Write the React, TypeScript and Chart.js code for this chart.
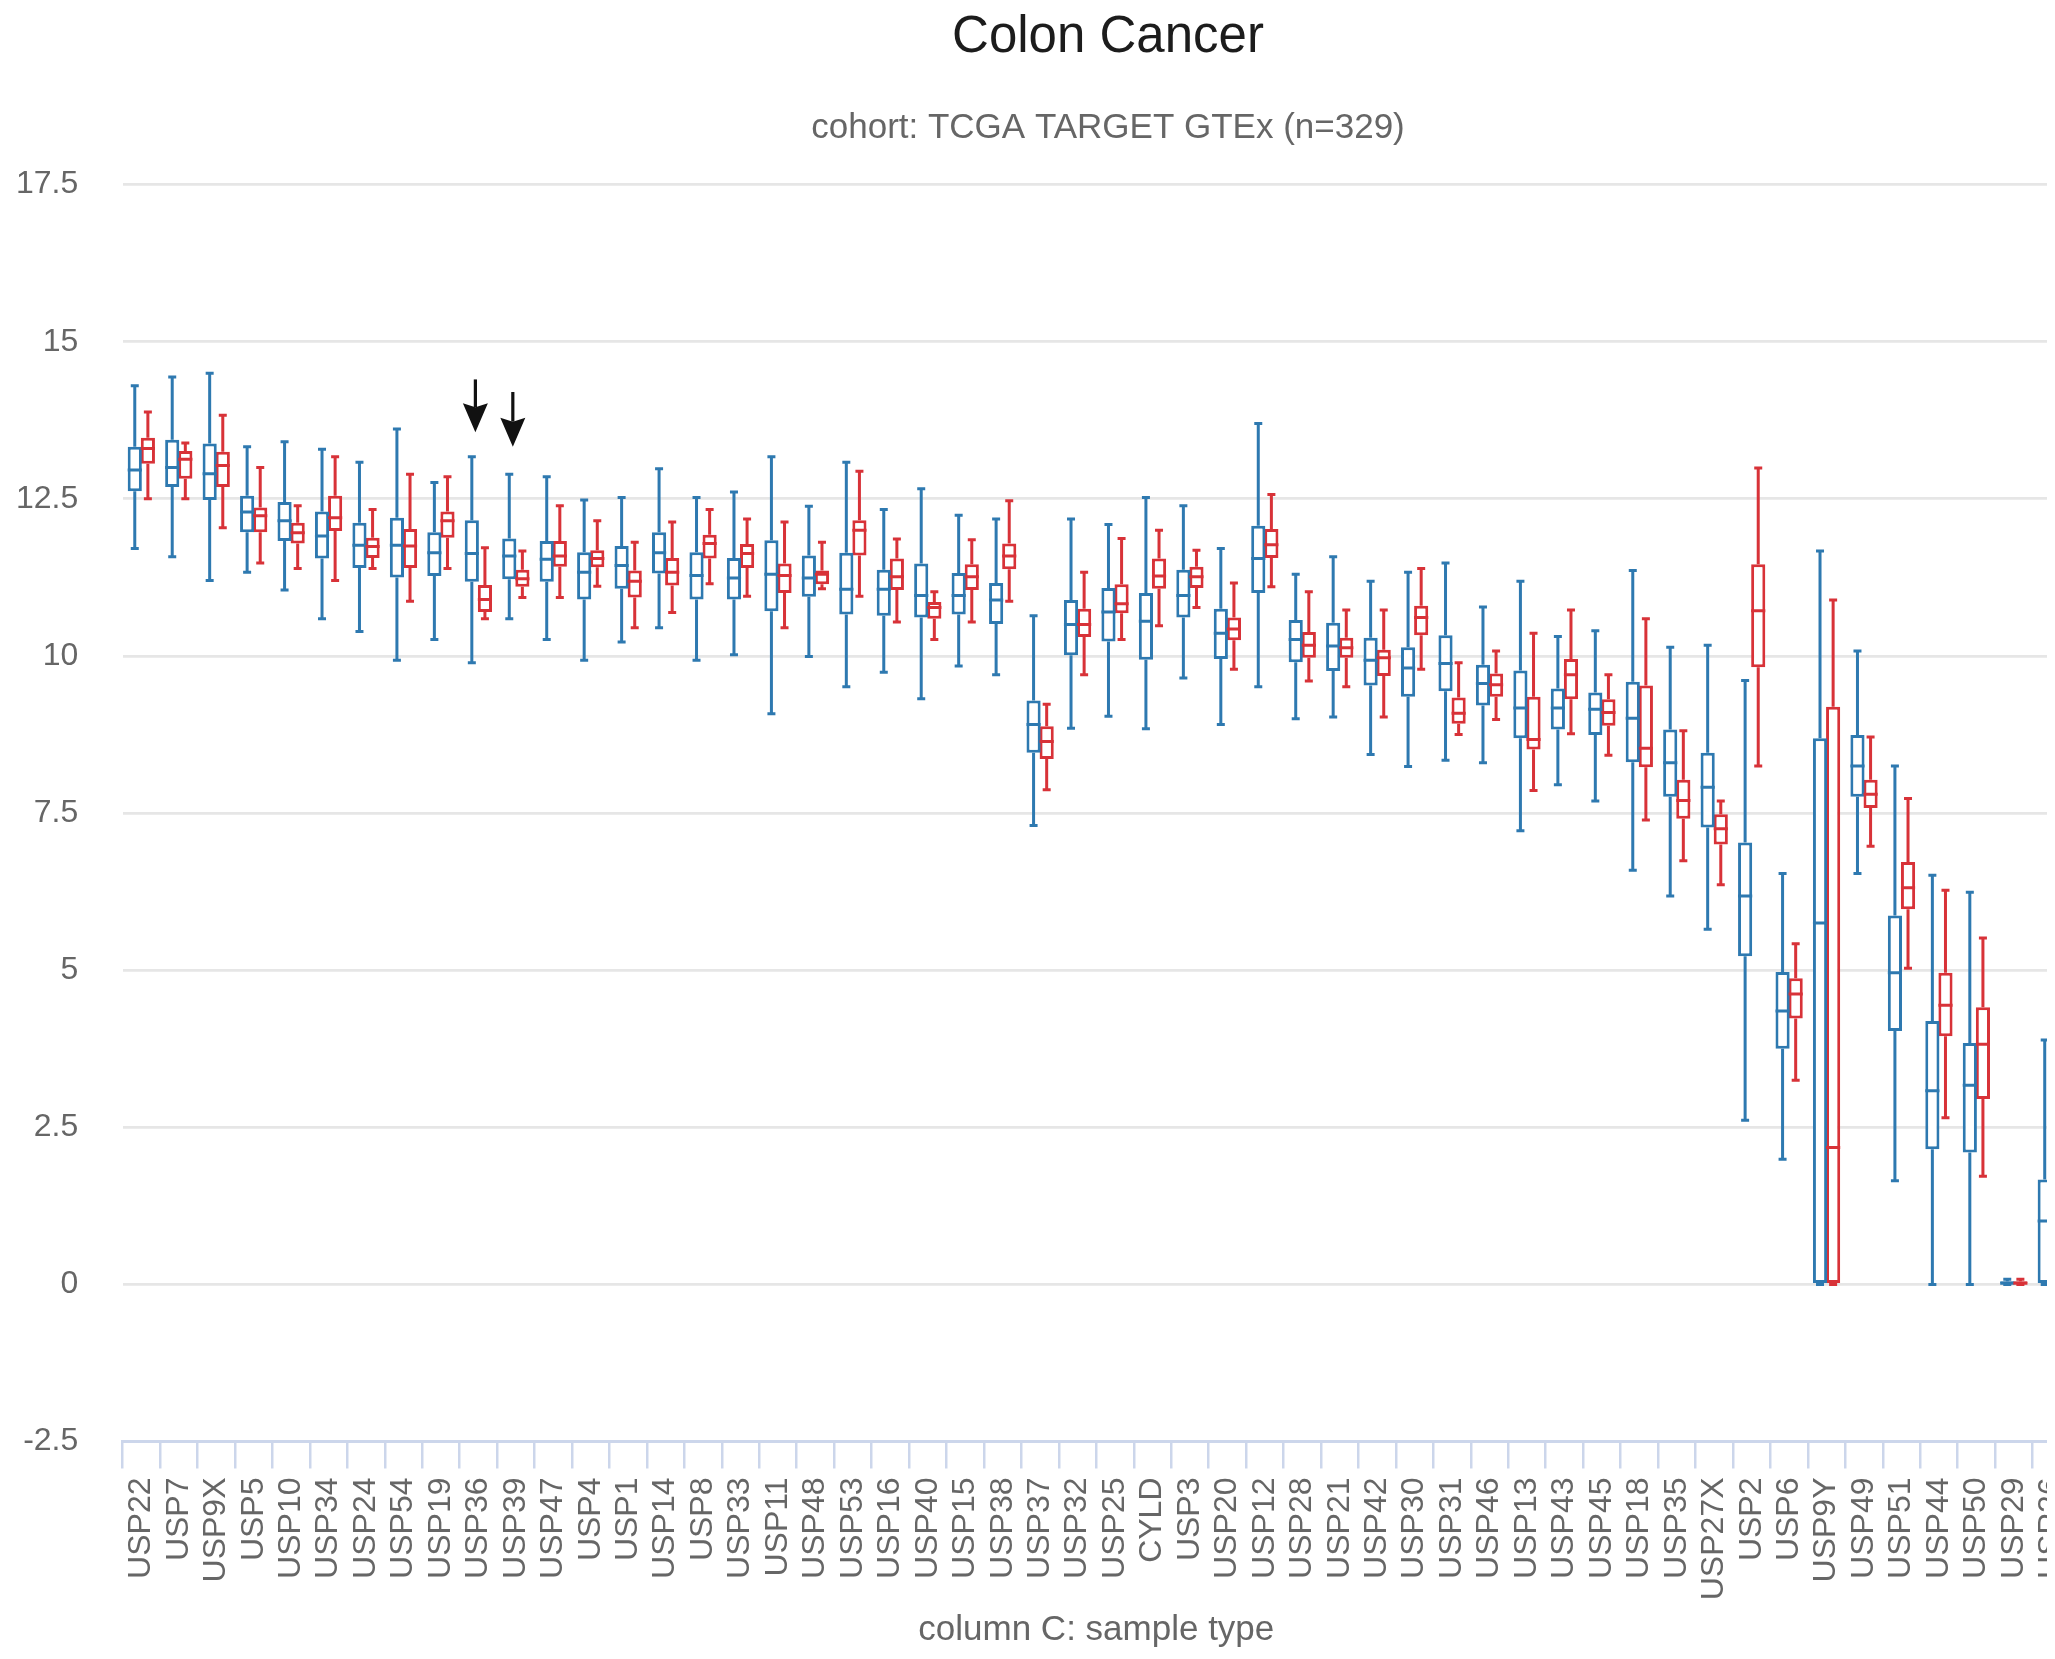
import React, { useEffect, useRef } from 'react';
import { Chart, registerables } from 'chart.js';

Chart.register(...registerables);

// ---------- data ----------
const categories = [
  'USP22', 'USP7', 'USP9X', 'USP5', 'USP10', 'USP34', 'USP24', 'USP54', 'USP19', 'USP36',
  'USP39', 'USP47', 'USP4', 'USP1', 'USP14', 'USP8', 'USP33', 'USP11', 'USP48', 'USP53',
  'USP16', 'USP40', 'USP15', 'USP38', 'USP37', 'USP32', 'USP25', 'CYLD', 'USP3', 'USP20',
  'USP12', 'USP28', 'USP21', 'USP42', 'USP30', 'USP31', 'USP46', 'USP13', 'USP43', 'USP45',
  'USP18', 'USP35', 'USP27X', 'USP2', 'USP6', 'USP9Y', 'USP49', 'USP51', 'USP44', 'USP50',
  'USP29', 'USP26',
];

const seriesNames = ['Primary Tumor', 'Solid Tissue Normal'];

// blue series
const blueMin = [
  11.71, 11.58, 11.20, 11.33, 11.05, 10.59, 10.39, 9.93, 10.26, 9.89,
  10.59, 10.26, 9.93, 10.22, 10.45, 9.93, 10.02, 9.08, 9.99, 9.51,
  9.74, 9.32, 9.84, 9.70, 7.30, 8.85, 9.04, 8.84, 9.65, 8.91,
  9.51, 9.00, 9.03, 8.43, 8.24, 8.34, 8.30, 7.22, 7.95, 7.69,
  6.59, 6.18, 5.65, 2.61, 1.99, 0, 6.54, 1.65, 0, 0,
  0, 0,
];
const blueQ1 = [
  12.62, 12.69, 12.48, 11.97, 11.83, 11.55, 11.40, 11.25, 11.27, 11.18,
  11.22, 11.18, 10.90, 11.07, 11.31, 10.90, 10.90, 10.71, 10.94, 10.66,
  10.64, 10.61, 10.66, 10.51, 8.46, 10.01, 10.23, 9.94, 10.61, 9.95,
  11.00, 9.90, 9.76, 9.53, 9.35, 9.44, 9.21, 8.69, 8.83, 8.74,
  8.31, 7.76, 7.27, 5.22, 3.75, 0, 7.76, 4.03, 2.15, 2.10,
  0, 0,
];
const blueMedian = [
  12.96, 13.00, 12.90, 12.29, 12.15, 11.91, 11.76, 11.76, 11.64, 11.63,
  11.59, 11.54, 11.33, 11.44, 11.64, 11.28, 11.24, 11.30, 11.24, 11.06,
  11.06, 10.96, 10.96, 10.89, 8.91, 10.50, 10.70, 10.55, 10.96, 10.36,
  11.55, 10.26, 10.16, 9.93, 9.81, 9.88, 9.56, 9.17, 9.17, 9.15,
  9.01, 8.30, 7.91, 6.18, 4.35, 5.75, 8.25, 4.96, 3.08, 3.17,
  0.02, 1.01,
];
const blueQ3 = [
  13.33, 13.44, 13.38, 12.55, 12.45, 12.30, 12.12, 12.20, 11.97, 12.16,
  11.87, 11.83, 11.65, 11.75, 11.97, 11.65, 11.56, 11.84, 11.60, 11.64,
  11.37, 11.47, 11.32, 11.16, 9.29, 10.89, 11.08, 11.00, 11.37, 10.75,
  12.07, 10.57, 10.53, 10.29, 10.14, 10.33, 9.86, 9.77, 9.48, 9.42,
  9.59, 8.83, 8.46, 7.03, 4.97, 8.69, 8.74, 5.87, 4.19, 3.84,
  0.05, 1.67,
];
const blueMax = [
  14.30, 14.44, 14.50, 13.33, 13.41, 13.29, 13.08, 13.61, 12.76, 13.17,
  12.89, 12.85, 12.48, 12.52, 12.98, 12.52, 12.61, 13.17, 12.38, 13.08,
  12.33, 12.66, 12.24, 12.18, 10.64, 12.18, 12.09, 12.52, 12.39, 11.71,
  13.70, 11.30, 11.58, 11.19, 11.33, 11.48, 10.78, 11.19, 10.31, 10.40,
  11.36, 10.14, 10.17, 9.61, 6.54, 11.67, 10.08, 8.25, 6.51, 6.24,
  0.08, 3.89,
];

// red series
const redMin = [
  12.50, 12.50, 12.04, 11.48, 11.39, 11.20, 11.39, 10.87, 11.39, 10.59,
  10.93, 10.93, 11.11, 10.45, 10.69, 11.15, 10.95, 10.45, 11.07, 10.95,
  10.54, 10.26, 10.54, 10.87, 7.87, 9.70, 10.26, 10.48, 10.77, 9.79,
  11.10, 9.60, 9.51, 9.03, 9.79, 8.75, 8.99, 7.86, 8.76, 8.42,
  7.39, 6.74, 6.36, 8.25, 3.25, 0, 6.97, 5.03, 2.65, 1.72,
  0, 0,
];
const redQ1 = [
  13.06, 12.82, 12.69, 11.97, 11.79, 11.99, 11.56, 11.40, 11.88, 10.70,
  11.10, 11.42, 11.41, 10.93, 11.12, 11.55, 11.40, 11.00, 11.14, 11.60,
  11.05, 10.59, 11.05, 11.38, 8.36, 10.30, 10.68, 11.07, 11.08, 10.25,
  11.56, 9.97, 9.97, 9.68, 10.33, 8.92, 9.35, 8.51, 9.31, 8.89,
  8.23, 7.41, 7.00, 9.82, 4.23, 0, 7.58, 5.97, 3.95, 2.95,
  0, 0,
];
const redMedian = [
  13.30, 13.13, 13.03, 12.23, 11.96, 12.20, 11.74, 11.75, 12.15, 10.90,
  11.23, 11.59, 11.55, 11.19, 11.33, 11.79, 11.63, 11.28, 11.30, 12.00,
  11.26, 10.77, 11.26, 11.59, 8.64, 10.50, 10.83, 11.27, 11.26, 10.43,
  11.77, 10.17, 10.13, 9.97, 10.61, 9.09, 9.54, 8.67, 9.70, 9.10,
  8.53, 7.70, 7.25, 10.72, 4.62, 2.18, 7.80, 6.31, 4.44, 3.82,
  0.02, 0.02,
];
const redQ3 = [
  13.47, 13.26, 13.25, 12.36, 12.12, 12.55, 11.88, 12.02, 12.30, 11.13,
  11.37, 11.83, 11.68, 11.36, 11.56, 11.93, 11.78, 11.47, 11.36, 12.16,
  11.55, 10.86, 11.46, 11.79, 8.88, 10.75, 11.14, 11.55, 11.42, 10.61,
  12.02, 10.38, 10.29, 10.10, 10.80, 9.34, 9.72, 9.35, 9.95, 9.31,
  9.53, 8.03, 7.48, 11.46, 4.87, 9.19, 8.03, 6.72, 4.96, 4.41,
  0.05, 0.05,
];
const redMax = [
  13.88, 13.39, 13.83, 13.00, 12.39, 13.17, 12.33, 12.89, 12.85, 11.72,
  11.67, 12.39, 12.15, 11.81, 12.13, 12.33, 12.18, 12.13, 11.81, 12.94,
  11.86, 11.02, 11.85, 12.47, 9.23, 11.33, 11.87, 12.00, 11.68, 11.16,
  12.57, 11.02, 10.73, 10.73, 11.39, 9.89, 10.08, 10.36, 10.73, 9.70,
  10.59, 8.81, 7.69, 12.99, 5.42, 10.89, 8.71, 7.73, 6.27, 5.51,
  0.08, 0.08,
];

// annotation arrows (black, pointing down)
const arrowCategories = ['USP36', 'USP39'];
const arrowTop = [14.40, 14.20];
const arrowTip = [13.56, 13.33];

const yTickMin = -2.5;
const yTickMax = 17.5;
const yTickStep = 2.5;

const titleText = 'Colon Cancer';
const subtitleText = 'cohort: TCGA TARGET GTEx (n=329)';
const xAxisTitle = 'column C: sample type';

// ---------- styles ----------
const FONT = "'Liberation Sans', Arial, Helvetica, sans-serif";
const BLUE = '#2e79b0';
const RED = '#d83238';
const LINE_W = 3;
const CAP_W = 8;

const boxWhiskerPlugin = {
  id: 'boxWhisker',
  afterDatasetsDraw(chart: any) {
    const { ctx } = chart;
    const yScale = chart.scales.y;
    chart.data.datasets.forEach((ds: any, di: number) => {
      const meta = chart.getDatasetMeta(di);
      const st = ds.stats;
      ctx.save();
      ctx.strokeStyle = ds.borderColor;
      ctx.lineWidth = LINE_W;
      ctx.lineCap = 'butt';
      meta.data.forEach((bar: any, i: number) => {
        const x = bar.x;
        const w = bar.width;
        const pMin = yScale.getPixelForValue(st.min[i]);
        const pQ1 = yScale.getPixelForValue(st.q1[i]);
        const pMed = yScale.getPixelForValue(st.median[i]);
        const pQ3 = yScale.getPixelForValue(st.q3[i]);
        const pMax = yScale.getPixelForValue(st.max[i]);
        ctx.beginPath();
        // stems
        if (pMin > pQ1) { ctx.moveTo(x, pQ1); ctx.lineTo(x, pMin); }
        if (pMax < pQ3) { ctx.moveTo(x, pQ3); ctx.lineTo(x, pMax); }
        // caps
        ctx.moveTo(x - CAP_W / 2, pMin); ctx.lineTo(x + CAP_W / 2, pMin);
        ctx.moveTo(x - CAP_W / 2, pMax); ctx.lineTo(x + CAP_W / 2, pMax);
        // median
        ctx.moveTo(x - w / 2, pMed); ctx.lineTo(x + w / 2, pMed);
        ctx.stroke();
      });
      ctx.restore();
    });

    // arrows
    const xScale = chart.scales.x;
    ctx.save();
    ctx.strokeStyle = '#111111';
    ctx.fillStyle = '#111111';
    ctx.lineWidth = 3.2;
    arrowCategories.forEach((cat, k) => {
      const idx = categories.indexOf(cat);
      const x = xScale.getPixelForValue(idx) - 3;
      const yTop = yScale.getPixelForValue(arrowTop[k]);
      const yTip = yScale.getPixelForValue(arrowTip[k]);
      const headLen = 29;
      const headHalf = 12.5;
      ctx.beginPath();
      ctx.moveTo(x, yTop);
      ctx.lineTo(x, yTip - headLen + 4);
      ctx.stroke();
      ctx.beginPath();
      ctx.moveTo(x - headHalf, yTip - headLen);
      ctx.lineTo(x, yTip - headLen + 4);
      ctx.lineTo(x + headHalf, yTip - headLen);
      ctx.lineTo(x, yTip);
      ctx.closePath();
      ctx.fill();
    });
    ctx.restore();
  },
};

export default function App() {
  const canvasRef = useRef<HTMLCanvasElement | null>(null);

  useEffect(() => {
    if (!canvasRef.current) return;
    const mkDataset = (
      label: string,
      color: string,
      min: number[], q1: number[], median: number[], q3: number[], max: number[],
    ) => ({
      label,
      data: categories.map((_, i) => [q1[i], q3[i]]),
      backgroundColor: '#ffffff',
      borderColor: color,
      borderWidth: LINE_W,
      borderSkipped: false,
      categoryPercentage: 0.7,
      barPercentage: 1.08,
      stats: { min, q1, median, q3, max },
    });

    const chart = new Chart(canvasRef.current, {
      type: 'bar',
      data: {
        labels: categories,
        datasets: [
          mkDataset(seriesNames[0], BLUE, blueMin, blueQ1, blueMedian, blueQ3, blueMax),
          mkDataset(seriesNames[1], RED, redMin, redQ1, redMedian, redQ3, redMax),
        ] as any,
      },
      options: {
        animation: false,
        responsive: false,
        devicePixelRatio: 1,
        layout: { padding: 0 },
        plugins: {
          legend: { display: false },
          tooltip: { enabled: false },
          title: {
            display: true,
            text: titleText,
            color: '#1c1c1c',
            font: { family: FONT, size: 51, weight: 'normal', lineHeight: 1.1 },
            padding: { top: 2, bottom: 20 },
          },
          subtitle: {
            display: true,
            text: subtitleText,
            color: '#666666',
            font: { family: FONT, size: 35, weight: 'normal', lineHeight: 1.2 },
            padding: { top: 21, bottom: 35.5 },
          },
        },
        scales: {
          x: {
            type: 'category',
            offset: true,
            grid: {
              offset: true,
              drawOnChartArea: false,
              drawTicks: true,
              tickLength: 27,
              color: '#ccd6eb',
              lineWidth: 2.5,
            },
            border: { display: true, color: '#ccd6eb', width: 3 },
            ticks: {
              autoSkip: false,
              minRotation: 90,
              maxRotation: 90,
              padding: 9,
              color: '#666666',
              font: { family: FONT, size: 32 },
            },
            title: {
              display: true,
              text: xAxisTitle,
              color: '#666666',
              font: { family: FONT, size: 35, lineHeight: 1.2 },
              padding: { top: 0, bottom: 0 },
            },
            afterFit: (s: any) => { s.height = 209.5; },
          },
          y: {
            type: 'linear',
            position: 'left',
            min: yTickMin,
            max: yTickMax,
            ticks: {
              stepSize: yTickStep,
              padding: 44.3,
              color: '#666666',
              font: { family: FONT, size: 32 },
            },
            grid: { color: '#e6e6e6', lineWidth: 2.8, drawTicks: false },
            border: { display: false },
            afterFit: (s: any) => { s.width = 114.6; },
          },
          yRight: {
            type: 'linear',
            position: 'right',
            display: true,
            grid: { display: false },
            ticks: { display: false },
            border: { display: false },
            afterFit: (s: any) => { s.width = 138; },
          },
        },
      } as any,
      plugins: [boxWhiskerPlugin],
    });
    return () => chart.destroy();
  }, []);

  return (
    <div style={{ width: 'calc(100% + 8px)', overflow: 'hidden' }}>
      <canvas ref={canvasRef} width={2200} height={1643} style={{ display: 'block' }} />
    </div>
  );
}
